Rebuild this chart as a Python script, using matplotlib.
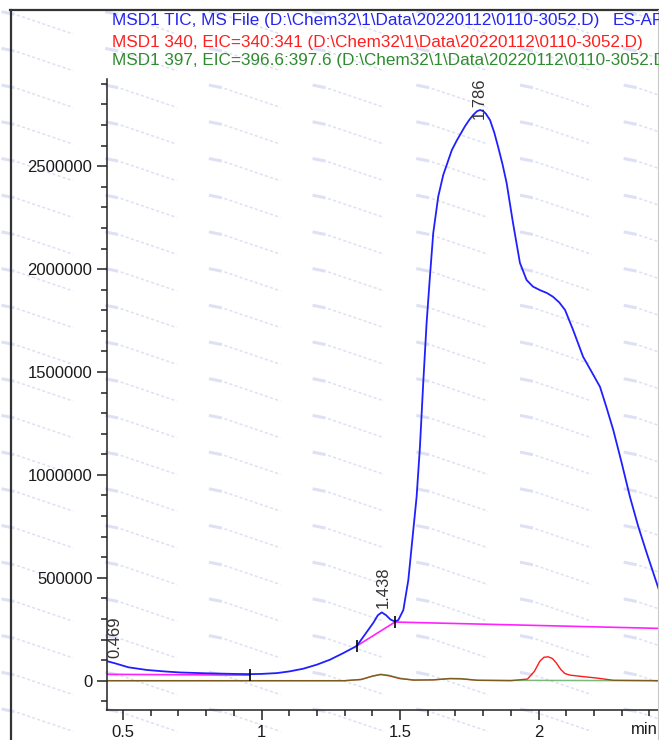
import numpy as np
import matplotlib
matplotlib.use("Agg")
import matplotlib.pyplot as plt
from matplotlib.ticker import MultipleLocator
from matplotlib.lines import Line2D

# chromatogram (min, counts)
tic_t = [0.442, 0.47, 0.52, 0.587, 0.65, 0.706, 0.80, 0.90, 0.958, 1.0, 1.056,
         1.10, 1.15, 1.20, 1.247, 1.295, 1.344, 1.403, 1.42, 1.434, 1.45, 1.465,
         1.482, 1.494, 1.512, 1.530, 1.548, 1.560, 1.572, 1.584, 1.596, 1.608,
         1.620, 1.638, 1.656, 1.687, 1.705, 1.72, 1.735, 1.75, 1.765, 1.778, 1.789,
         1.80, 1.81, 1.825, 1.84, 1.854, 1.87,
         1.885, 1.908, 1.933, 1.957, 1.98, 2.005, 2.03, 2.052, 2.075, 2.096, 2.125, 2.161,
         2.19, 2.222, 2.245, 2.270, 2.300, 2.330, 2.360, 2.391, 2.431, 2.44]
tic_y = [95000, 85000, 65000, 52000, 45000, 40000, 36000, 33000, 32000, 33000, 37000,
         45000, 58000, 78000, 102000, 134000, 169000, 280000, 318000, 332000, 318000, 298000,
         287000, 295000, 343000, 489000, 732000, 894000, 1137000, 1450000, 1738000, 1963000,
         2175000, 2352000, 2457000, 2578000, 2625000, 2660000, 2695000, 2725000, 2750000, 2767000, 2773000,
         2768000, 2755000, 2724000, 2665000, 2595000, 2510000,
         2418000, 2224000, 2030000, 1947000, 1915000, 1898000, 1884000, 1866000, 1838000, 1801000, 1704000, 1574000,
         1505000, 1428000, 1330000, 1218000, 1060000, 894000, 750000, 619000, 457000, 420000]

eic340_t = [0.442, 1.30, 1.36, 1.40, 1.43, 1.46, 1.50, 1.55, 1.62, 1.68, 1.72, 1.78,
            1.90, 1.96, 1.985, 2.005, 2.02, 2.035, 2.05, 2.065, 2.08, 2.095, 2.114, 2.16, 2.21, 2.27, 2.44]
eic340_y = [0, 0, 6000, 22000, 30000, 24000, 10000, 3000, 4000, 10000, 9000, 2000,
            0, 8000, 45000, 95000, 114000, 116000, 108000, 85000, 55000, 35000, 27000, 20000, 13000, 2000, 0]

eic397_t = [0.442, 1.30, 1.36, 1.40, 1.43, 1.46, 1.50, 1.55, 1.62, 1.68, 1.72, 1.78, 2.44]
eic397_y = [0, 0, 6000, 22000, 31000, 26000, 12000, 3000, 4000, 11000, 10000, 2000, 0]

# integration baselines
base_segs = [([0.442, 0.958], [31000, 27000]),
             ([1.344, 1.482], [169000, 285000]),
             ([1.482, 2.44], [285000, 254000])]
base_ticks_t = [0.958, 1.344, 1.482]
base_ticks_y = [27000, 169000, 285000]

peaks = ["0.469", "1.438", "1.786"]
peak_t = [0.469, 1.438, 1.786]
peak_dy = [4, 4, -6]

hdr = ["MSD1 TIC, MS File (D:\\Chem32\\1\\Data\\20220112\\0110-3052.D)",
       "MSD1 340, EIC=340:341 (D:\\Chem32\\1\\Data\\20220112\\0110-3052.D)",
       "MSD1 397, EIC=396.6:397.6 (D:\\Chem32\\1\\Data\\20220112\\0110-3052.D)"]
hdr_col = ["#2424f0", "#ff1f1f", "#2e8b2e"]

W, H = 659, 740
plt.rcParams['font.family'] = ['Liberation Sans', 'DejaVu Sans']

fig = plt.figure(figsize=(W / 100, H / 100), dpi=100)

def fx(px):
    return px / W

def fy(py):
    return 1 - py / H

# faint watermark tiles
wm = "#dde1f3"
for cx in np.arange(3, W, 103.7):
    for ry in np.arange(7, H, 36.7):
        fig.add_artist(Line2D([fx(cx), fx(cx + 10)], [fy(ry + 5), fy(ry + 7)],
                              color=wm, lw=2.2, zorder=0))
        fig.add_artist(Line2D([fx(cx + 14), fx(cx + 70)], [fy(ry + 8), fy(ry + 27)],
                              color=wm, lw=1.1, ls=(0, (2, 1.5)), zorder=0))

# outer frame
fig.add_artist(Line2D([fx(10.5), fx(10.5)], [fy(10), 0], color="#333333", lw=1.6))
fig.add_artist(Line2D([fx(10), 1], [fy(10), fy(10)], color="#333333", lw=1.6))
fig.add_artist(Line2D([fx(657.5), fx(657.5)], [fy(10), 0], color="#c8c8c8", lw=0.8))

ax = fig.add_axes([fx(107), 30 / H, 1 - fx(107), (710 - 79) / H])
ax.patch.set_alpha(0)

k = 500000 / 102.9
ax.set_xlim(0.5 - 16 / 277, 0.5 + 536 / 277)
ax.set_ylim(-(710 - 680.7) * k, (680.7 - 79) * k)

ax.plot(eic340_t, eic340_y, color="#ff1a1a", lw=1.0)
ax.plot(eic397_t, eic397_y, color="#228b22", lw=1.1, alpha=0.6)
for xs, ys in base_segs:
    ax.plot(xs, ys, color="#ff22ff", lw=1.2)
ax.plot(tic_t, tic_y, color="#2020ff", lw=1.3)
ax.plot(base_ticks_t, base_ticks_y, ls="none", marker="|", ms=8, mew=1.2, color="black")

for lab, t, dy in zip(peaks, peak_t, peak_dy):
    yv = np.interp(t, tic_t, tic_y)
    ax.annotate(lab, (t, yv), xytext=(0, dy), textcoords="offset points",
                rotation=90, ha="center", va="bottom", fontsize=12, color="#333333")

ax.xaxis.set_major_locator(MultipleLocator(0.5))
ax.xaxis.set_minor_locator(MultipleLocator(0.1))
ax.yaxis.set_major_locator(MultipleLocator(500000))
ax.yaxis.set_minor_locator(MultipleLocator(100000))
ax.set_xticks([0.5, 1, 1.5, 2])
ax.set_xticklabels(["0.5", "1", "1.5", "2"])
ax.yaxis.set_major_formatter(plt.FuncFormatter(lambda v, p: "%d" % round(v)))

for s in ["top", "right"]:
    ax.spines[s].set_visible(False)
for s in ["left", "bottom"]:
    ax.spines[s].set_color("#222222")
    ax.spines[s].set_linewidth(1.1)
ax.tick_params(which="major", length=7.5, width=1.1, color="#222222",
               labelsize=12, labelcolor="#1a1a1a", pad=3)
ax.tick_params(which="minor", length=4.5, width=1.1, color="#222222")

fig.text(fx(631), fy(730), "min", fontsize=12, color="#1a1a1a", ha="left", va="center")

for i, (txt, c) in enumerate(zip(hdr, hdr_col)):
    fig.text(fx(111.7), fy([25, 46.7, 65][i]), txt, fontsize=12.3, color=c,
             ha="left", va="baseline")
fig.text(fx(613), fy(25), "ES-API", fontsize=12.3, color=hdr_col[0], ha="left", va="baseline")

fig.savefig("out.png", dpi=100)
